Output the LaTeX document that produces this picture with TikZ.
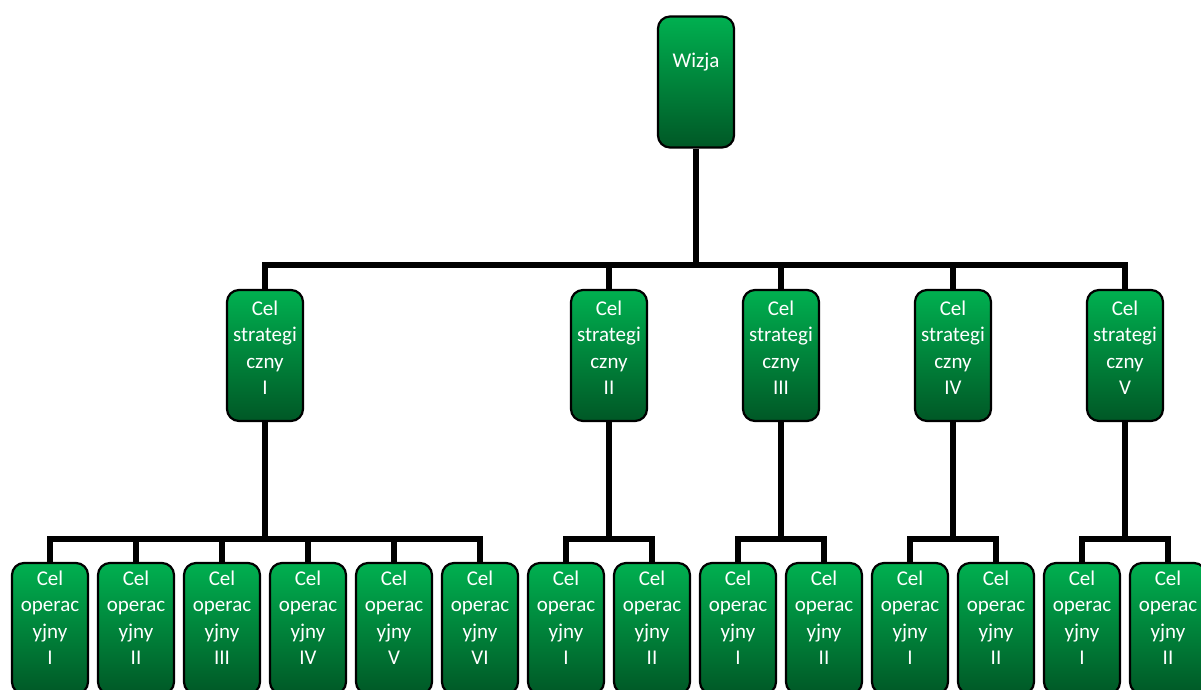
\documentclass[tikz,border=0pt]{standalone}
\usepackage{fontspec}
\setmainfont{Carlito}
\usepackage{xcolor}
\usetikzlibrary{positioning}

\definecolor{celtop}{RGB}{0,176,80}
\definecolor{celbot}{RGB}{0,88,38}

\begin{document}
\begin{tikzpicture}[
    x=1pt, y=-1pt,
    box/.style={rectangle, rounded corners=12pt, draw=black, line width=2.2pt,
                top color=celtop, bottom color=celbot,
                minimum width=76pt, minimum height=131pt, inner sep=0pt},
    txt/.style={font=\fontsize{21}{26.3}\selectfont, text=white, align=center,
                inner sep=0pt},
    conn/.style={line width=6pt, black}
  ]
    \useasboundingbox (0,0) rectangle (1201,689);
    \clip (0,0) rectangle (1201,689);

    %% ── Row 1: Vision
    \node[box] (w) at (696, 82) {};
    \node[txt, below=37pt of w.north] (wt) {Wizja};

    %% ── Row 2: Strategic goals
    \node[box] (s1) at (265, 355.5) {};
    \node[box] (s2) at (609, 355.5) {};
    \node[box] (s3) at (781, 355.5) {};
    \node[box] (s4) at (953, 355.5) {};
    \node[box] (s5) at (1125, 355.5) {};

    \node[txt, below=12pt of s1.north] (s1t) {Cel\\strategi\\czny\\I};
    \node[txt, below=12pt of s2.north] (s2t) {Cel\\strategi\\czny\\II};
    \node[txt, below=12pt of s3.north] (s3t) {Cel\\strategi\\czny\\III};
    \node[txt, below=12pt of s4.north] (s4t) {Cel\\strategi\\czny\\IV};
    \node[txt, below=12pt of s5.north] (s5t) {Cel\\strategi\\czny\\V};

    %% ── Row 3: Operational goals
    \node[box] (o1)  at (50, 628.5)   {};
    \node[box] (o2)  at (136, 628.5)  {};
    \node[box] (o3)  at (222, 628.5)  {};
    \node[box] (o4)  at (308, 628.5)  {};
    \node[box] (o5)  at (394, 628.5)  {};
    \node[box] (o6)  at (480, 628.5)  {};
    \node[box] (o7)  at (566, 628.5)  {};
    \node[box] (o8)  at (652, 628.5)  {};
    \node[box] (o9)  at (738, 628.5)  {};
    \node[box] (o10) at (824, 628.5)  {};
    \node[box] (o11) at (910, 628.5)  {};
    \node[box] (o12) at (996, 628.5)  {};
    \node[box] (o13) at (1082, 628.5) {};
    \node[box] (o14) at (1168, 628.5) {};

    \foreach \n/\num in {o1/I, o2/II, o3/III, o4/IV, o5/V, o6/VI,
                         o7/I, o8/II, o9/I, o10/II, o11/I, o12/II, o13/I, o14/II} {
      \node[txt, below=9pt of \n.north] (\n t) {Cel\\operac\\yjny\\\num};
    }

    %% Bus points
    \coordinate (b0) at (696, 265);
    \coordinate (b1) at (265, 538.5);
    \coordinate (b2) at (609, 538.5);
    \coordinate (b3) at (781, 538.5);
    \coordinate (b4) at (953, 538.5);
    \coordinate (b5) at (1125, 538.5);

    %% Connectors: vision -> strategic goals
    \draw[conn] (w) -- (b0);
    \draw[conn] (b0) -| (s1);
    \draw[conn] (b0) -| (s2);
    \draw[conn] (b0) -| (s3);
    \draw[conn] (b0) -| (s4);
    \draw[conn] (b0) -| (s5);

    %% Connectors: strategic -> operational goals
    \draw[conn] (s1) -- (b1);
    \draw[conn] (b1) -| (o1);
    \draw[conn] (b1) -| (o2);
    \draw[conn] (b1) -| (o3);
    \draw[conn] (b1) -| (o4);
    \draw[conn] (b1) -| (o5);
    \draw[conn] (b1) -| (o6);

    \draw[conn] (s2) -- (b2);
    \draw[conn] (b2) -| (o7);
    \draw[conn] (b2) -| (o8);

    \draw[conn] (s3) -- (b3);
    \draw[conn] (b3) -| (o9);
    \draw[conn] (b3) -| (o10);

    \draw[conn] (s4) -- (b4);
    \draw[conn] (b4) -| (o11);
    \draw[conn] (b4) -| (o12);

    \draw[conn] (s5) -- (b5);
    \draw[conn] (b5) -| (o13);
    \draw[conn] (b5) -| (o14);

\end{tikzpicture}
\end{document}
